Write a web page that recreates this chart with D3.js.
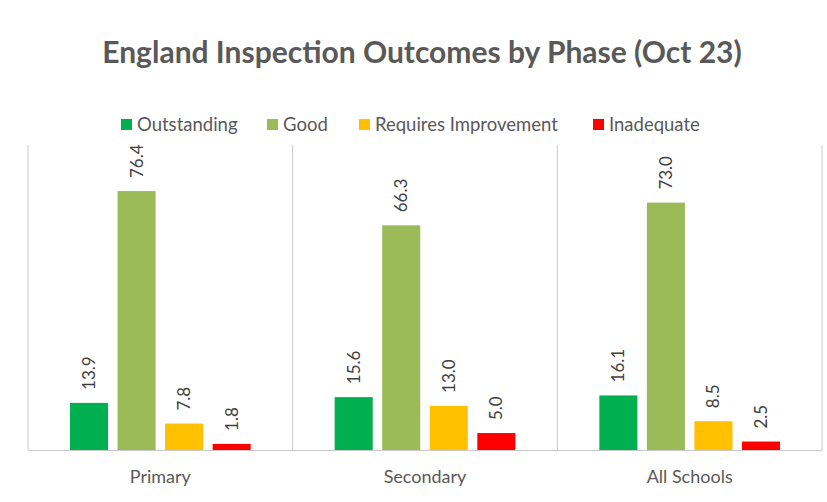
<!DOCTYPE html>
<html>
<head>
<meta charset="utf-8">
<script src="https://cdn.jsdelivr.net/npm/d3@7"></script>
<style>
  body { margin: 0; background: #fff; }
  svg text { font-family: Lato, "Open Sans", sans-serif; }
</style>
</head>
<body>
<div class="svg"></div>
<script>
var phases = ['Primary', 'Secondary', 'All Schools'];
var outcomes = ['Outstanding', 'Good', 'Requires Improvement', 'Inadequate'];
var outstanding = [13.9, 15.6, 16.1];
var good = [76.4, 66.3, 73.0];
var requiresImprovement = [7.8, 13.0, 8.5];
var inadequate = [1.8, 5.0, 2.5];
var colours = ['#00B050', '#9BBB59', '#FFC000', '#FF0000'];
var yMax = 90;

function chartDraw(settings) {
  this.w = settings.w;
  this.h = settings.h;
  this.appendSvg('div.svg');
  this.draw();
}

chartDraw.prototype.appendSvg = function (selector) {
  this.svg = d3.select(selector || 'body')
    .append('svg')
    .attr('width', this.w)
    .attr('height', this.h);
};

chartDraw.prototype.draw = function () {
  var svg = this.svg;
  var left = 28, right = 822, top = 145, bottom = 450;

  // rows for each phase, one value per outcome
  var seriesValues = [outstanding, good, requiresImprovement, inadequate];
  var rows = phases.map(function (p, i) {
    return {phase: p, values: seriesValues.map(function (s, j) {
      return {key: outcomes[j], value: s[i], colour: colours[j]};
    })};
  });

  var x0 = d3.scaleBand().domain(phases).range([left, right]).padding(0);
  var x1 = d3.scaleBand().domain(outcomes)
    .range([42, x0.bandwidth() - 42])
    .paddingInner(0.2).paddingOuter(0);
  var y = d3.scaleLinear().domain([0, yMax]).range([bottom, top]);

  // title
  svg.append('text')
    .attr('x', 422)
    .attr('y', 63)
    .attr('text-anchor', 'middle')
    .style('font-size', '30px')
    .style('font-weight', 'bold')
    .style('fill', '#595959')
    .text('England Inspection Outcomes by Phase (Oct 23)');

  // vertical separators between categories
  var bounds = phases.map(function (p) { return x0(p); }).concat([right]);
  svg.selectAll('line.sep')
    .data(bounds)
    .enter()
    .append('line')
    .attr('class', 'sep')
    .attr('x1', function (d) { return d; })
    .attr('x2', function (d) { return d; })
    .attr('y1', top)
    .attr('y2', bottom)
    .style('stroke', '#c8c8c8')
    .style('stroke-width', 1);

  var groups = svg.selectAll('g.phase')
    .data(rows)
    .enter()
    .append('g')
    .attr('class', 'phase')
    .attr('transform', function (d) { return 'translate(' + x0(d.phase) + ',0)'; });

  groups.selectAll('rect')
    .data(function (d) { return d.values; })
    .enter()
    .append('rect')
    .attr('x', function (d) { return x1(d.key); })
    .attr('y', function (d) { return y(d.value); })
    .attr('width', x1.bandwidth())
    .attr('height', function (d) { return bottom - y(d.value); })
    .style('fill', function (d) { return d.colour; });

  groups.selectAll('text.lbl')
    .data(function (d) { return d.values; })
    .enter()
    .append('text')
    .attr('class', 'lbl')
    .attr('transform', function (d) {
      return 'translate(' + (x1(d.key) + x1.bandwidth() / 2 + 6) + ',' + (y(d.value) - 13) + ') rotate(-90)';
    })
    .style('font-size', '17px')
    .style('fill', '#404040')
    .text(function (d) { return d.value.toFixed(1); });

  // category axis
  var xAxis = d3.axisBottom(x0).tickSize(0).tickPadding(20);
  var ax = svg.append('g')
    .attr('transform', 'translate(0,' + bottom + ')')
    .call(xAxis);
  ax.select('.domain').style('stroke', '#c8c8c8');
  ax.selectAll('text')
    .style('font-size', '18px')
    .style('fill', '#595959')
    .style('font-family', 'Lato, sans-serif');

  // legend
  var legendX = [121, 267, 359, 593];
  var legend = svg.selectAll('g.legend')
    .data(outcomes)
    .enter()
    .append('g')
    .attr('class', 'legend')
    .attr('transform', function (d, i) { return 'translate(' + legendX[i] + ',125)'; });
  legend.append('rect')
    .attr('x', 0)
    .attr('y', -6)
    .attr('width', 11)
    .attr('height', 11)
    .style('fill', function (d, i) { return colours[i]; });
  legend.append('text')
    .attr('x', 16)
    .attr('y', 6)
    .style('font-size', '18.5px')
    .style('fill', '#595959')
    .text(function (d) { return d; });
};

var draw = new chartDraw({w: 827, h: 502});
</script>
</body>
</html>
